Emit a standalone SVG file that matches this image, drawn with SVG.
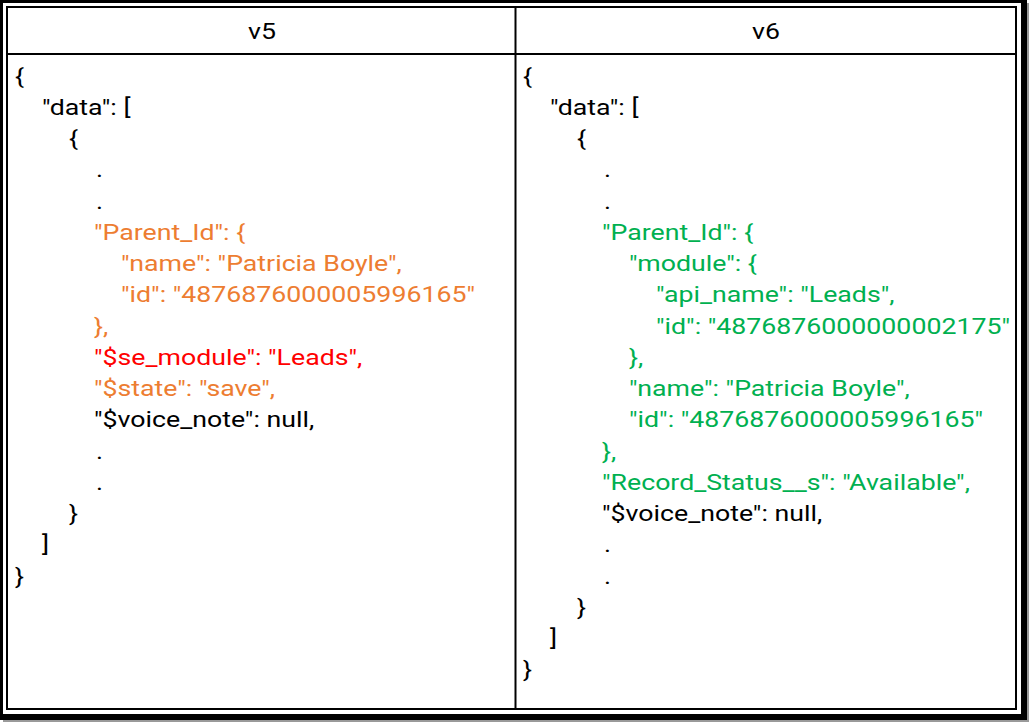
<svg xmlns="http://www.w3.org/2000/svg" width="1030" height="724" viewBox="0 0 1030 724">
<style>
text{font-family:Roboto,"Liberation Sans",sans-serif;font-size:22.5px;fill:#000}
.o{fill:#ED7D31}
.r{fill:#FF0000}
.g{fill:#00B050}
.h{text-anchor:middle}
.ln{stroke:#000;stroke-width:2;fill:none}
</style>
<rect x="0" y="0" width="1030" height="724" fill="#fff"/>
<g id="frame">
<rect x="3" y="3" width="1026" height="719" fill="#9a9a9a"/>
<rect x="0" y="0" width="1027" height="720" fill="#000"/>
<rect x="3" y="3" width="1018" height="711" fill="#fff"/>
<rect class="ln" x="7" y="7" width="1009" height="702"/>
<line class="ln" x1="7" y1="54" x2="1016" y2="54"/>
<line class="ln" x1="515.5" y1="7" x2="515.5" y2="709"/>
</g>
<g id="header">
<g transform="translate(262,0) scale(1.187,1)"><text class="h" x="0" y="39">v5</text></g>
<g transform="translate(766,0) scale(1.187,1)"><text class="h" x="0" y="39">v6</text></g>
</g>
<g id="v5" transform="translate(15,0) scale(1.187,1)">
<text x="0" y="83.75">{</text>
<text x="22.75" y="115">"data": [</text>
<text x="45.49" y="146.25">{</text>
<text x="68.24" y="177.5">.</text>
<text x="68.24" y="208.75">.</text>
<text class="o" x="66.55" y="240">"Parent_Id": {</text>
<text class="o" x="89.3" y="271.25">"name": "Patricia Boyle",</text>
<text class="o" x="89.3" y="302.5">"id": "4876876000005996165"</text>
<text class="o" x="66.55" y="333.75">},</text>
<text class="r" x="66.55" y="365">"$se_module": "Leads",</text>
<text class="o" x="66.55" y="396.25">"$state": "save",</text>
<text x="66.55" y="427.5">"$voice_note": null,</text>
<text x="68.24" y="458.75">.</text>
<text x="68.24" y="490">.</text>
<text x="45.49" y="521.25">}</text>
<text x="22.75" y="552.5">]</text>
<text x="0" y="583.75">}</text>
</g>
<g id="v6" transform="translate(523,0) scale(1.187,1)">
<text x="0" y="83.75">{</text>
<text x="22.75" y="115">"data": [</text>
<text x="45.49" y="146.25">{</text>
<text x="68.24" y="177.5">.</text>
<text x="68.24" y="208.75">.</text>
<text class="g" x="66.55" y="240">"Parent_Id": {</text>
<text class="g" x="89.3" y="271.25">"module": {</text>
<text class="g" x="112.05" y="302.5">"api_name": "Leads",</text>
<text class="g" x="112.05" y="333.75">"id": "4876876000000002175"</text>
<text class="g" x="89.3" y="365">},</text>
<text class="g" x="89.3" y="396.25">"name": "Patricia Boyle",</text>
<text class="g" x="89.3" y="427.5">"id": "4876876000005996165"</text>
<text class="g" x="66.55" y="458.75">},</text>
<text class="g" x="66.55" y="490">"Record_Status__s": "Available",</text>
<text x="66.55" y="521.25">"$voice_note": null,</text>
<text x="68.24" y="552.5">.</text>
<text x="68.24" y="583.75">.</text>
<text x="45.49" y="615">}</text>
<text x="22.75" y="646.25">]</text>
<text x="0" y="677.5">}</text>
</g>
</svg>
